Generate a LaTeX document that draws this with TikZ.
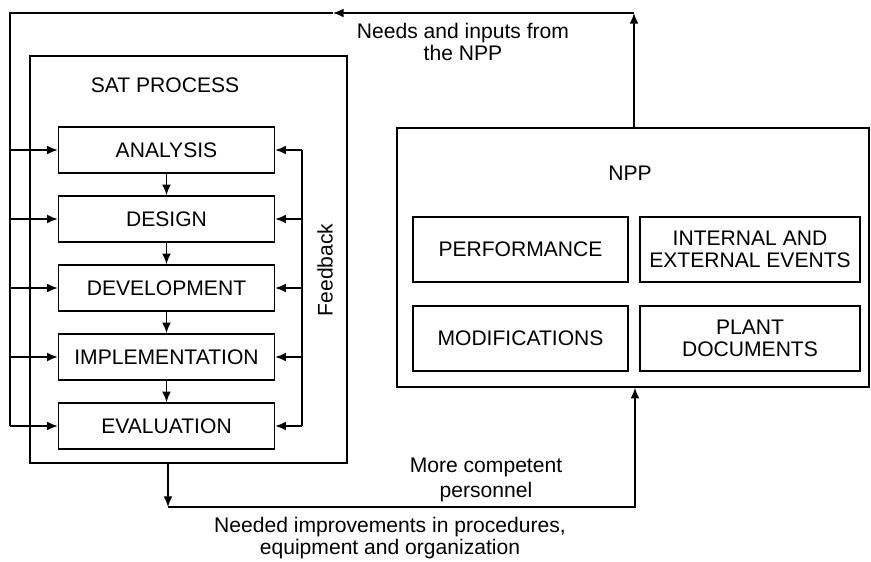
\documentclass[tikz,border=0pt]{standalone}
\usepackage{fontspec}
\setmainfont{Liberation Sans}
\usetikzlibrary{arrows.meta}
\begin{document}
\begin{tikzpicture} [
                x=0.02cm, y=-0.02cm,
                >={Latex[length=6pt,width=5pt]},
                font=\fontsize{12}{12.8}\selectfont,
                stage/.style={draw,line width=0.9pt,minimum width=4.32cm,minimum height=0.92cm,inner sep=0pt},
                item/.style={draw,line width=0.9pt,minimum height=1.3cm,inner sep=0pt,align=center},
                frame/.style={draw,line width=0.9pt,inner sep=0pt},
                label text/.style={align=center,inner sep=0pt},
                edge/.style = {draw,line width=0.9pt,-},
                arrow edge/.style = {draw,line width=0.9pt,->},
            ]
            \useasboundingbox (0,0) rectangle (871,561);
            % the two frames
            \node[frame,minimum width=6.34cm,minimum height=8.14cm] (sat) at (188.5,259.5) {};
            \node[frame,minimum width=9.44cm,minimum height=5.18cm] (npp) at (633,257.5) {};
            \node[label text] (sattitle) at (165,85) {SAT PROCESS};
            \node[label text] (npptitle) at (630,173) {NPP};
            % SAT stages
            \foreach \pos/\name/\text in {
            {(166.5,150)/ana/ANALYSIS}, {(166.5,219)/des/DESIGN}, {(166.5,288)/dev/DEVELOPMENT},
            {(166.5,357)/imp/IMPLEMENTATION}, {(166.5,426)/eva/EVALUATION}}
                \node[stage] (\name) at \pos {\text};
            \foreach \source/ \dest in {
                    ana/des,des/dev,dev/imp,imp/eva}
                \path[arrow edge] (\source) -- (\dest);
            % NPP items
            \node[item,minimum width=4.3cm] (perf) at (520.5,249.5) {PERFORMANCE};
            \node[item,minimum width=4.4cm] (events) at (750,249.5) {INTERNAL AND\\EXTERNAL EVENTS};
            \node[item,minimum width=4.3cm] (mods) at (520.5,338.5) {MODIFICATIONS};
            \node[item,minimum width=4.4cm] (docs) at (750,338.5) {PLANT\\DOCUMENTS};
            % feedback
            \coordinate (fb top) at (302,150);
            \coordinate (fb bot) at (302,426);
            \path[edge] (fb top) -- (fb bot);
            \foreach \name in {ana,des,dev,imp,eva}
                \path[arrow edge] (fb top |- \name.east) -- (\name.east);
            \node[label text,rotate=90] (fb) at (325,270) {Feedback};
            % needs and inputs from the NPP
            \coordinate (top in) at (634,13);
            \coordinate (top mid) at (333,13);
            \coordinate (top out) at (10,13);
            \coordinate (left end) at (10,426);
            \path[arrow edge] (npp.north -| top in) -- (top in);
            \path[arrow edge] (top in) -- (top mid);
            \path[edge] (top mid) -- (top out) -- (left end);
            \foreach \name in {ana,des,dev,imp,eva}
                \path[arrow edge] (top out |- \name.west) -- (\name.west);
            \node[label text] (needs) at (463,42) {Needs and inputs from\\the NPP};
            % back to the NPP
            \coordinate (bot left) at (168,507);
            \coordinate (bot right) at (635,507);
            \path[arrow edge] (sat.south -| bot left) -- (bot left);
            \path[arrow edge] (bot left) -- (bot right) -- (bot right |- npp.south);
            \node[label text,font=\fontsize{12}{14}\selectfont] (personnel) at (486,480) {More competent\\personnel};
            \node[label text] (improve) at (390,538) {Needed improvements in procedures,\\equipment and organization};
        \end{tikzpicture}
\end{document}
